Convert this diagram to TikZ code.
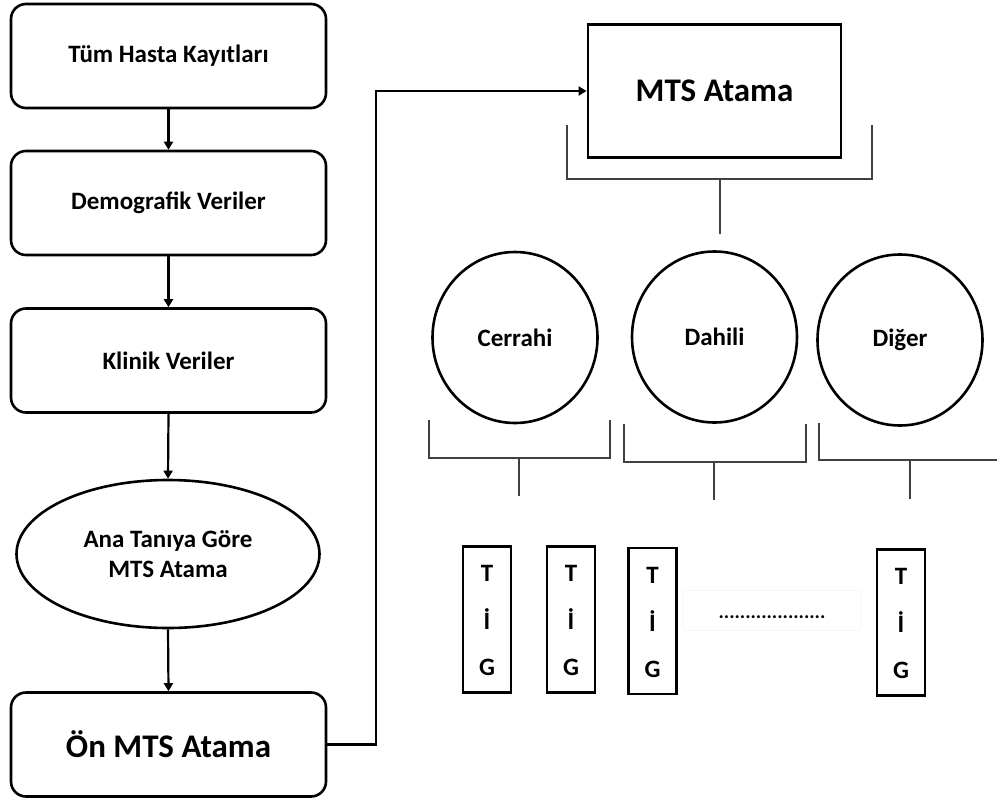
\documentclass[tikz,border=0pt]{standalone}
\usepackage{fontspec}
\setmainfont{Carlito}
\usetikzlibrary{arrows.meta,shapes.geometric}

\tikzset{
  flowbox/.style={draw=black, line width=2.6pt, rounded corners=15pt,
    minimum width=315pt, minimum height=104pt, align=center,
    font=\bfseries\fontsize{25}{30}\selectfont},
  oval/.style={draw=black, line width=2.6pt, ellipse,
    minimum width=303pt, minimum height=148pt, inner sep=0pt, align=center,
    font=\bfseries\fontsize{25}{30}\selectfont},
  group/.style={draw=black, line width=2.6pt, ellipse,
    minimum width=165pt, minimum height=171pt, inner sep=0pt,
    font=\bfseries\fontsize{25}{30}\selectfont},
  mtsbox/.style={draw=black, line width=2.8pt,
    minimum width=253pt, minimum height=133pt,
    font=\bfseries\fontsize{33}{40}\selectfont},
  tigbox/.style={draw=black, line width=2.6pt,
    minimum width=48pt, minimum height=146pt, inner sep=0pt},
  tigletter/.style={font=\bfseries\fontsize{25}{30}\selectfont},
  flow/.style={line width=2.2pt, -{Triangle[length=8pt,width=9pt]}},
  brace/.style={line width=1.8pt, draw=black!75},
}

\begin{document}
\begin{tikzpicture}[x=1pt, y=-1pt]
  \useasboundingbox (0,0) rectangle (997,801);

  % left column: preparation steps
  \node[flowbox] (kayit)  at (168.5,56)    {Tüm Hasta Kayıtları};
  \node[flowbox] (demo)   at (168.5,203)   {Demografik Veriler};
  \node[flowbox] (klinik) at (168.5,360.5) {Klinik Veriler};
  \node[oval]    (tani)   at (168,554)     {Ana Tanıya Göre\\MTS Atama};
  \node[flowbox, font=\bfseries\fontsize{33}{40}\selectfont]
                 (onmts)  at (168.5,744.5) {Ön MTS Atama};

  \draw[flow] (kayit.south)  -- (demo.north);
  \draw[flow] (demo.south)   -- (klinik.north);
  \draw[flow] (klinik.south) -- (tani.north);
  \draw[flow] (tani.south)   -- (onmts.north);

  % final assignment
  \node[mtsbox] (mts) at (714.5,91) {MTS Atama};
  \draw[flow] (onmts.east) -- (376,744.5) |- (mts.west);

  % bracket under the final assignment
  \draw[brace] (567,125) -- (567,179) -- (872,179) -- (872,125);
  \draw[brace] (720,179) -- (720,234);

  % department groups
  \node[group] (cerrahi) at (515,337.5) {Cerrahi};
  \node[group] (dahili)  at (714.5,337) {Dahili};
  \node[group] (diger)   at (900,340)   {Diğer};

  \draw[brace] (429,420) -- (429,458) -- (610,458) -- (610,420);
  \draw[brace] (519,458) -- (519,496);
  \draw[brace] (624,424) -- (624,462) -- (806,462) -- (806,424);
  \draw[brace] (714,462) -- (714,500);
  \draw[brace] (819,423) -- (819,460) -- (997,460);
  \draw[brace] (910,460) -- (910,499);

  % TİG columns
  \foreach \nm/\cx/\cy in {tigA/487/619.5, tigB/571/619.5, tigC/652.5/621, tigD/901/622.5}{
    \node[tigbox] (\nm) at (\cx,\cy) {};
    \node[tigletter] at ([yshift=46pt]\nm.center) {T};
    \node[tigletter] at ([yshift=0pt]\nm.center) {İ};
    \node[tigletter] at ([yshift=-48pt]\nm.center) {G};
  }

  % ellipsis between the columns
  \draw[draw=black!4, line width=0.8pt] (683,590) rectangle (860,630);
  \node[font=\bfseries\fontsize{20}{24}\selectfont, inner sep=0pt] (dots) at (772,617)
    {....................};
\end{tikzpicture}
\end{document}
